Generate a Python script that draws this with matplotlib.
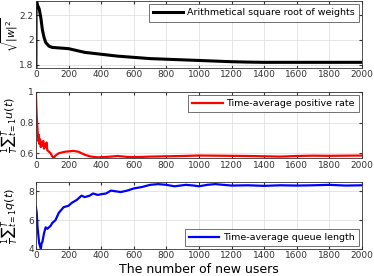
import matplotlib.pyplot as plt

# panel 1: arithmetical square root of weights
w_x = [0, 1, 5, 10, 20, 30, 40, 50, 60, 80, 100, 150, 200, 250, 300, 400, 500, 600, 700, 800, 900,
       1000, 1100, 1200, 1300, 1400, 1500, 1600, 1700, 1800, 1900, 2000]
w_y = [1.78, 2.31, 2.31, 2.28, 2.25, 2.18, 2.08, 2.02, 1.98, 1.95, 1.94, 1.935, 1.93, 1.915, 1.90,
       1.885, 1.87, 1.86, 1.85, 1.845, 1.84, 1.835, 1.83, 1.825, 1.822, 1.82, 1.82, 1.82, 1.82,
       1.82, 1.82, 1.82]

# panel 2: time-average positive rate
u_x = [0, 3, 6, 10, 14, 18, 22, 26, 30, 35, 40, 45, 50, 55, 60, 65, 70, 80, 90, 100, 110, 120, 140,
       160, 180, 200, 230, 260, 280, 300, 330, 360, 380, 420, 460, 500, 520, 560, 600, 650, 700,
       800, 900, 1000, 1100, 1200, 1300, 1400, 1500, 1600, 1700, 1800, 1900, 2000]
u_y = [1.0, 0.9, 0.82, 0.75, 0.68, 0.72, 0.66, 0.69, 0.64, 0.67, 0.65, 0.68, 0.63, 0.66, 0.64,
       0.67, 0.62, 0.61, 0.6, 0.58, 0.57, 0.585, 0.6, 0.605, 0.61, 0.612, 0.615, 0.61, 0.6, 0.59,
       0.58, 0.575, 0.573, 0.575, 0.578, 0.582, 0.58, 0.576, 0.575, 0.576, 0.578, 0.58, 0.582,
       0.585, 0.584, 0.583, 0.582, 0.58, 0.578, 0.582, 0.584, 0.583, 0.584, 0.585]

# panel 3: time-average queue length
q_x = [0, 5, 10, 20, 30, 35, 40, 50, 60, 70, 80, 90, 100, 120, 140, 170, 200, 220, 250, 280, 300,
       330, 350, 380, 400, 430, 460, 490, 520, 560, 600, 650, 700, 750, 800, 850, 920, 970, 1000,
       1050, 1100, 1150, 1200, 1300, 1400, 1500, 1600, 1700, 1800, 1900, 2000]
q_y = [6.9, 6.5, 5.5, 4.4, 4.0, 4.4, 4.5, 5.1, 5.5, 5.4, 5.5, 5.6, 5.8, 6.0, 6.5, 6.9, 7.0, 7.2,
       7.4, 7.7, 7.6, 7.7, 7.85, 7.75, 7.8, 7.85, 8.05, 8.0, 7.95, 8.05, 8.2, 8.3, 8.45, 8.5, 8.45,
       8.35, 8.45, 8.4, 8.35, 8.45, 8.5, 8.45, 8.4, 8.42, 8.38, 8.42, 8.4, 8.42, 8.45, 8.4, 8.42]

fig, axes = plt.subplots(3, 1, figsize=(3.74, 2.76), dpi=100)
fig.subplots_adjust(left=0.096, right=0.968, top=0.995, bottom=0.098, hspace=0.36)

panels = [
    (w_x, w_y, 'k', 2.2, 'Arithmetical square root of weights', 'upper right',
     r'$\sqrt{|w|^2}$', 7.5, (1.775, 2.31), [1.8, 2, 2.2], ['1.8', '2', '2.2']),
    (u_x, u_y, 'r', 1.6, 'Time-average positive rate', 'upper right',
     r'$\frac{1}{T}{\sum}_{t=1}^{T}u(t)$', 8, (0.566, 1.0), [0.6, 0.8, 1.0], ['0.6', '0.8', '1']),
    (q_x, q_y, 'b', 1.6, 'Time-average queue length', 'lower right',
     r'$\frac{1}{T}{\sum}_{t=1}^{T}q(t)$', 8, (4.0, 8.62), [4, 6, 8], ['4', '6', '8']),
]

for ax, (x, y, c, lw, lab, loc, ylab, yfs, ylim, yt, ytl) in zip(axes, panels):
    ax.plot(x, y, color=c, lw=lw, label=lab)
    ax.set_xlim(0, 2000)
    ax.set_ylim(*ylim)
    ax.set_xticks(range(0, 2001, 200))
    ax.set_yticks(yt)
    ax.set_yticklabels(ytl)
    ax.grid(True, color='#e0e0e0', lw=0.6)
    ax.tick_params(direction='in', top=True, right=True, labelsize=6.5, length=2,
                   color='#333333', labelcolor='#333333', pad=1.5)
    for s in ax.spines.values():
        s.set_color('#333333')
        s.set_linewidth(0.6)
    leg = ax.legend(loc=loc, fontsize=6.8, fancybox=False, edgecolor='#333333',
                    handlelength=3.2, handletextpad=0.4, borderpad=0.45, borderaxespad=0.3)
    leg.get_frame().set_linewidth(0.6)
    ax.set_ylabel(ylab, fontsize=yfs)
    ax.yaxis.set_label_coords(-0.05, 0.5)

axes[2].set_xlabel('The number of new users', fontsize=9, labelpad=2)

fig.savefig('out.png', dpi=100)
